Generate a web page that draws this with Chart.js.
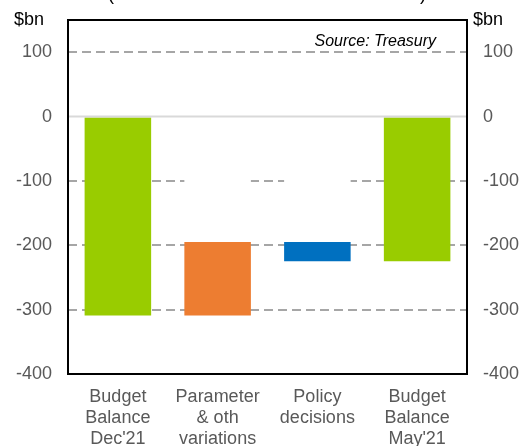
<!DOCTYPE html>
<html>
<head>
<meta charset="utf-8">
<script src="https://cdn.jsdelivr.net/npm/chart.js@4"></script>
<style>
  body { margin: 0; background: #fff; }
  #wrap { width: 527px; height: 446px; position: relative; }
</style>
</head>
<body>
<div id="wrap"><canvas id="chart"></canvas></div>
<script>
// waterfall: budget balance, $bn
const categories = [
  ['Budget', 'Balance', "Dec'21"],
  ['Parameter', '& oth', 'variations'],
  ['Policy', 'decisions'],
  ['Budget', 'Balance', "May'21"]
];
const barStart = [0, -309, -195, 0];
const barEnd = [-309, -195, -225, -225];
const barColors = ['#99cc00', '#ed7d31', '#0070c0', '#99cc00'];
// hidden base under the floating steps
const baseStart = [null, 0, 0, null];
const baseEnd = [null, -195, -195, null];
const yMin = -400;
const yMax = 150;
const yStep = 100;

const FONT = 'Liberation Sans, Arial, sans-serif';
const GREY = '#595959';

const steps = barStart.map((v, i) => [v, barEnd[i]]);
const base = baseStart.map((v, i) => v === null ? null : [v, baseEnd[i]]);

const frame = {
  id: 'frame',
  afterDatasetsDraw(chart) {
    const { ctx, chartArea: a, scales } = chart;
    const y0 = scales.y.getPixelForValue(0);
    ctx.save();
    ctx.strokeStyle = '#d9d9d9';
    ctx.lineWidth = 2;
    ctx.beginPath();
    ctx.moveTo(a.left, y0);
    ctx.lineTo(a.right, y0);
    ctx.stroke();
    ctx.strokeStyle = '#000';
    ctx.lineWidth = 2;
    ctx.strokeRect(a.left, a.top, a.right - a.left, a.bottom - a.top);

    ctx.fillStyle = '#000';
    ctx.font = '18px ' + FONT;
    ctx.textBaseline = 'middle';
    ctx.textAlign = 'left';
    ctx.fillText('$bn', 14, a.top);
    ctx.fillText('$bn', a.right + 6, a.top);

    ctx.font = 'italic 16px ' + FONT;
    ctx.textAlign = 'right';
    ctx.fillText('Source: Treasury', a.right - 31, a.top + 22);

    // bottom of the title line
    ctx.font = '18px ' + FONT;
    ctx.textBaseline = 'alphabetic';
    ctx.textAlign = 'left';
    ctx.fillText('(', 108, 0);
    ctx.fillText(')', 420, 0);
    ctx.restore();
  }
};

const tickFont = { family: FONT, size: 18, lineHeight: 1.15 };

// fixed axis widths, no extra padding for end labels
function fixWidth(w) {
  return s => {
    s.width = w;
    s.paddingTop = 0;
    s.paddingBottom = 0;
  };
}

new Chart(document.getElementById('chart'), {
  type: 'bar',
  data: {
    labels: categories,
    datasets: [
      {
        data: base,
        backgroundColor: '#ffffff',
        borderSkipped: false,
        barPercentage: 0.667,
        categoryPercentage: 1
      },
      {
        data: steps,
        backgroundColor: barColors,
        borderSkipped: false,
        barPercentage: 0.667,
        categoryPercentage: 1
      }
    ]
  },
  plugins: [frame],
  options: {
    responsive: true,
    maintainAspectRatio: false,
    animation: false,
    layout: { padding: { top: 20, left: 0, right: 0, bottom: 0 } },
    plugins: {
      legend: { display: false },
      tooltip: { enabled: false }
    },
    scales: {
      x: {
        stacked: true,
        grid: { display: false },
        border: { display: false },
        ticks: { color: GREY, font: tickFont, padding: 5, maxRotation: 0, autoSkip: false },
        afterFit: s => { s.height = 72; }
      },
      y: {
        min: yMin,
        max: yMax,
        border: { display: false, dash: [9, 5] },
        grid: {
          drawTicks: false,
          lineWidth: 2,
          color: c => c.tick && c.tick.value === 0 ? 'rgba(0,0,0,0)' : '#a6a6a6'
        },
        ticks: { stepSize: yStep, includeBounds: false, color: GREY, font: tickFont, padding: 16 },
        afterFit: fixWidth(68)
      },
      y2: {
        position: 'right',
        min: yMin,
        max: yMax,
        border: { display: false },
        grid: { display: false, drawTicks: false },
        ticks: { stepSize: yStep, includeBounds: false, color: GREY, font: tickFont, padding: 16 },
        afterFit: fixWidth(60)
      }
    }
  }
});
</script>
</body>
</html>
